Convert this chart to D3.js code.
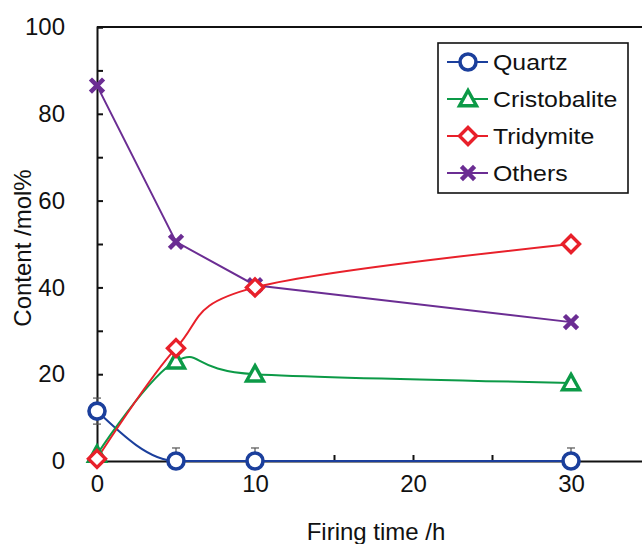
<!DOCTYPE html>
<html><head><meta charset="utf-8">
<script src="https://cdn.jsdelivr.net/npm/d3@7"></script>
<style>body{margin:0;background:#fff;} text{font-family:"Liberation Sans",Arial,sans-serif;fill:#111;}</style>
</head><body>
<svg id="c" width="642" height="544"></svg>
<script>
const times = [0, 5, 10, 30];
const quartz = [11.5, 0, 0, 0];
const quartzErr = [3, 3, 3, 3];
const cristobalite = [1.5, 23, 20, 18];
const tridymite = [0.5, 26, 40, 50];
const others = [86.5, 50.5, 40.5, 32];
const xTicks = [0, 10, 20, 30];
const xMinor = [5, 15, 25];
const yTicks = [0, 20, 40, 60, 80, 100];
const yMinor = [10, 30, 50, 70, 90];
const seriesNames = ["Quartz", "Cristobalite", "Tridymite", "Others"];
const colors = ["#1b3f9c", "#0c9a47", "#e8202a", "#6b2d93"];

const svg = d3.select("#c");
const x = d3.scaleLinear().domain([0, 35]).range([97, 650]);
const y = d3.scaleLinear().domain([0, 100]).range([461, 27]);

// frame lines
svg.append("line").attr("x1", x(0)).attr("x2", 642).attr("y1", y(100)).attr("y2", y(100)).attr("stroke", "#111").attr("stroke-width", 2);

// axes
const yAxis = d3.axisLeft(y).tickValues(yTicks).tickSize(-6).tickPadding(32).tickFormat(d3.format("d"));
const gy = svg.append("g").attr("transform", `translate(${x(0)},0)`).call(yAxis);
const yAxisMinor = d3.axisLeft(y).tickValues(yMinor).tickSize(-6).tickFormat("");
svg.append("g").attr("transform", `translate(${x(0)},0)`).call(yAxisMinor).call(g => g.select(".domain").remove());

const xAxis = d3.axisBottom(x).tickValues(xTicks).tickSize(-6).tickPadding(14).tickFormat(d3.format("d"));
const gx = svg.append("g").attr("transform", `translate(0,${y(0)})`).call(xAxis);
const xAxisMinor = d3.axisBottom(x).tickValues(xMinor).tickSize(-6).tickFormat("");
svg.append("g").attr("transform", `translate(0,${y(0)})`).call(xAxisMinor).call(g => g.select(".domain").remove());

svg.selectAll(".domain").attr("stroke", "#111").attr("stroke-width", 2);
svg.selectAll(".tick line").attr("stroke", "#111").attr("stroke-width", 2);
svg.selectAll(".tick text").style("font-size", "24px").attr("fill", "#111").style("font-family", "Liberation Sans, Arial, sans-serif");
gx.selectAll(".tick text").attr("dy", "0.71em");

// axis titles
svg.append("text").attr("x", 376).attr("y", 540).attr("text-anchor", "middle").style("font-size", "24px").text("Firing time /h");
svg.append("text").attr("transform", `translate(31,248) rotate(-90)`).attr("text-anchor", "middle").style("font-size", "24px").text("Content /mol%");

// error bars for quartz
const eb = svg.append("g");
times.forEach((t, i) => {
  const lo = Math.max(0, quartz[i] - quartzErr[i]);
  const hi = quartz[i] + quartzErr[i];
  eb.append("line").attr("x1", x(t)).attr("x2", x(t)).attr("y1", y(lo)).attr("y2", y(hi)).attr("stroke", "#555").attr("stroke-width", 1.2);
  eb.append("line").attr("x1", x(t) - 4).attr("x2", x(t) + 4).attr("y1", y(hi)).attr("y2", y(hi)).attr("stroke", "#555").attr("stroke-width", 1.2);
  if (quartz[i] - quartzErr[i] > 0)
    eb.append("line").attr("x1", x(t) - 4).attr("x2", x(t) + 4).attr("y1", y(lo)).attr("y2", y(lo)).attr("stroke", "#555").attr("stroke-width", 1.2);
});

const data = [quartz, cristobalite, tridymite, others];
const smooth = d3.line().x((d, i) => x(times[i])).y(d => y(d)).curve(d3.curveCardinal.tension(0));
const mono = d3.line().x((d, i) => x(times[i])).y(d => y(d)).curve(d3.curveMonotoneX);
const straight = d3.line().x((d, i) => x(times[i])).y(d => y(d));
const gens = [mono, smooth, smooth, straight];

function marker(g, type, color, cx, cy) {
  if (type === 0) {
    g.append("circle").attr("cx", cx).attr("cy", cy).attr("r", 8).attr("fill", "#fff").attr("stroke", color).attr("stroke-width", 3.6);
  } else if (type === 1) {
    const s = 8.5;
    g.append("path").attr("d", `M${cx},${cy - s} L${cx + s},${cy + s * 0.8} L${cx - s},${cy + s * 0.8}Z`).attr("fill", "#fff").attr("stroke", color).attr("stroke-width", 3.4).attr("stroke-linejoin", "miter");
  } else if (type === 2) {
    const s = 8.5;
    g.append("path").attr("d", `M${cx},${cy - s} L${cx + s},${cy} L${cx},${cy + s} L${cx - s},${cy}Z`).attr("fill", "#fff").attr("stroke", color).attr("stroke-width", 3.4);
  } else {
    const s = 5;
    g.append("path").attr("d", `M${cx - s},${cy - s} L${cx + s},${cy + s} M${cx - s},${cy + s} L${cx + s},${cy - s}`).attr("stroke", color).attr("stroke-width", 4.5).attr("stroke-linecap", "square");
  }
}

// draw order: others, quartz, cristobalite, tridymite
const order = [3, 0, 1, 2];
order.forEach(k => {
  svg.append("path").attr("d", gens[k](data[k])).attr("fill", "none").attr("stroke", colors[k]).attr("stroke-width", 2);
});
order.forEach(k => {
  const g = svg.append("g");
  data[k].forEach((v, i) => marker(g, k, colors[k], x(times[i]), y(v)));
});

// legend
const lg = svg.append("g");
lg.append("rect").attr("x", 438).attr("y", 43).attr("width", 190).attr("height", 150).attr("fill", "#fff").attr("stroke", "#111").attr("stroke-width", 1.6);
seriesNames.forEach((name, k) => {
  const cy = 62 + k * 37;
  lg.append("line").attr("x1", 447).attr("x2", 488).attr("y1", cy).attr("y2", cy).attr("stroke", colors[k]).attr("stroke-width", 2);
  marker(lg, k, colors[k], 468, cy);
  lg.append("text").attr("transform", `translate(493,${cy + 8}) scale(1.13,1)`).style("font-size", "22px").text(name);
});
</script>
</body></html>
